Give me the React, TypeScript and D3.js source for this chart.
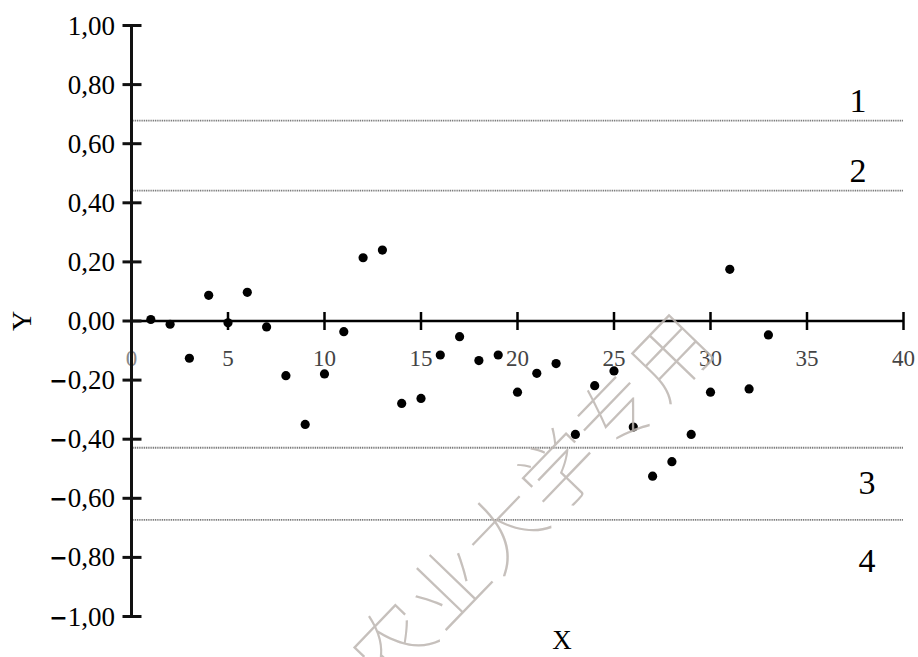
import React from "react";
import * as d3 from "d3";

// Observation index and value
const xValues = [
  1, 2, 3, 4, 5, 6, 7, 8, 9, 10, 11, 12, 13, 14, 15, 16, 17, 18, 19, 20, 21,
  22, 23, 24, 25, 26, 27, 28, 29, 30, 31, 32, 33,
];
const yValues = [
  0.005, -0.011, -0.126, 0.087, -0.006, 0.097, -0.02, -0.185, -0.35, -0.179,
  -0.036, 0.214, 0.24, -0.279, -0.262, -0.115, -0.053, -0.134, -0.115, -0.241,
  -0.177, -0.144, -0.384, -0.219, -0.169, -0.359, -0.525, -0.476, -0.384,
  -0.241, 0.175, -0.23, -0.047,
];

// Reference levels with their labels
const levelValues = [0.678, 0.441, -0.429, -0.673];
const levelLabels = ["1", "2", "3", "4"];

const xTicks = [0, 5, 10, 15, 20, 25, 30, 35, 40];
const yTicks = [1, 0.8, 0.6, 0.4, 0.2, 0, -0.2, -0.4, -0.6, -0.8, -1];

const watermarkChars = ["农", "业", "大", "学", "专", "用"];

const W = 918;
const H = 657;

export default function App() {
  const x = d3.scaleLinear().domain([0, 40]).range([131.5, 903.5]);
  const y = d3.scaleLinear().domain([-1, 1]).range([616.5, 25.5]);
  const fmt = (v: number) => Math.abs(v).toFixed(2).replace(".", ",");
  const serif = "'Liberation Serif', 'Times New Roman', serif";

  return (
    <svg
      width={W}
      height={H}
      viewBox={`0 0 ${W} ${H}`}
      style={{ position: "absolute", left: 0, top: 0, background: "#fff" }}
    >
      {/* reference levels */}
      {levelValues.map((v, i) => (
        <line
          key={"lv" + i}
          x1={x(0)}
          x2={x(40)}
          y1={y(v)}
          y2={y(v)}
          stroke="#6f6f6f"
          strokeWidth={1.8}
          strokeDasharray="1 0.8"
        />
      ))}
      {levelLabels.map((t, i) => (
        <text
          key={"ll" + i}
          x={i < 2 ? 858 : 867}
          y={[100, 170, 482, 560][i]}
          fontFamily={serif}
          fontSize={34}
          textAnchor="middle"
          dominantBaseline="central"
          fill="#000"
        >
          {t}
        </text>
      ))}

      {/* x tick labels */}
      {xTicks.map((t) => (
        <text
          key={"xl" + t}
          x={x(t)}
          y={358}
          fontFamily={serif}
          fontSize={23}
          textAnchor="middle"
          dominantBaseline="central"
          fill={t === 0 ? "#8a8a8a" : "#444"}
        >
          {t}
        </text>
      ))}

      {/* axes */}
      <line x1={x(0)} x2={x(40)} y1={y(0)} y2={y(0)} stroke="#000" strokeWidth={2.5} />
      {xTicks.map((t) =>
        t === 0 ? null : (
          <line
            key={"xt" + t}
            x1={x(t)}
            x2={x(t)}
            y1={y(0) - 9}
            y2={y(0) + 9}
            stroke="#000"
            strokeWidth={2.5}
          />
        )
      )}
      <line x1={x(0)} x2={x(0)} y1={y(1)} y2={y(-1)} stroke="#111" strokeWidth={3} />
      {yTicks.map((t) => (
        <g key={"yt" + t}>
          <line
            x1={x(0) - 9}
            x2={x(0) + 10}
            y1={y(t)}
            y2={y(t)}
            stroke="#111"
            strokeWidth={3}
          />
          <text
            x={115}
            y={y(t)}
            fontFamily={serif}
            fontSize={27}
            textAnchor="end"
            dominantBaseline="central"
            fill="#000"
          >
            {t < 0 ? (
              <tspan fontWeight="bold" fontFamily="'DejaVu Sans', sans-serif" fontSize={22}>
                {"\u2212"}
              </tspan>
            ) : null}
            {fmt(t)}
          </text>
        </g>
      ))}

      {/* axis titles */}
      <text
        x={562}
        y={640}
        fontFamily={serif}
        fontSize={27}
        textAnchor="middle"
        dominantBaseline="central"
      >
        X
      </text>
      <text
        transform={`translate(21,${y(0)}) rotate(-90)`}
        fontFamily={serif}
        fontSize={28}
        textAnchor="middle"
        dominantBaseline="central"
      >
        Y
      </text>

      {/* points */}
      {xValues.map((v, i) => (
        <circle key={"p" + i} cx={x(v)} cy={y(yValues[i])} r={4.6} fill="#000" />
      ))}

      {/* diagonal stamp */}
      <g transform="translate(528,496) rotate(-46)" opacity={0.85}>
        {watermarkChars.map((c, i) => (
          <text
            key={"wm" + i}
            x={(i - 2.5) * 80}
            y={0}
            fontFamily="'Noto Sans CJK SC', sans-serif"
            fontWeight={100}
            fontSize={78}
            textAnchor="middle"
            dominantBaseline="central"
            fill="#bdb6b1"
          >
            {c}
          </text>
        ))}
      </g>
    </svg>
  );
}
